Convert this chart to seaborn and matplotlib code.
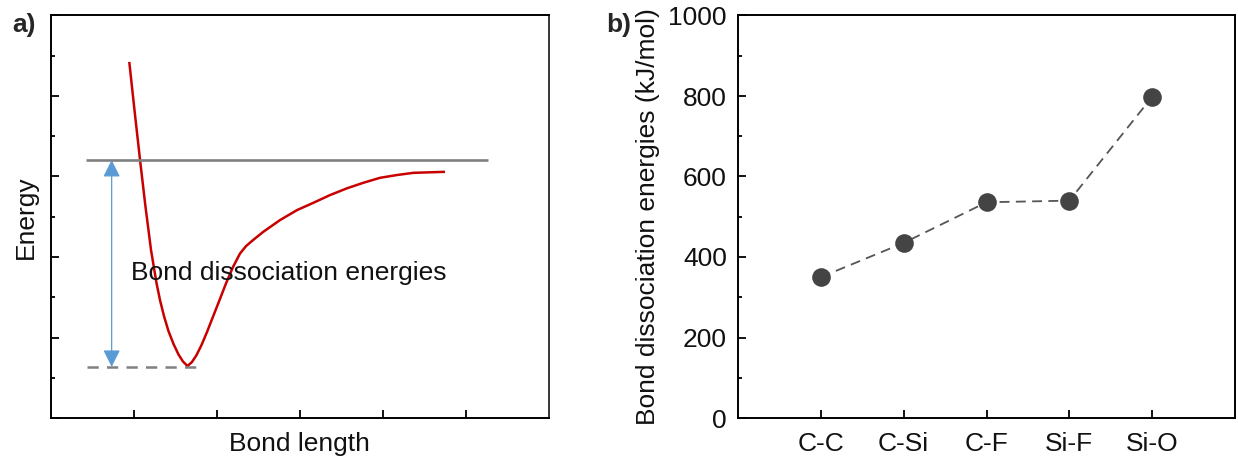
import numpy as np
import pandas as pd
import matplotlib
matplotlib.use("Agg")
import matplotlib.pyplot as plt
import seaborn as sns
from matplotlib.ticker import MultipleLocator

# ---------------- data ----------------
# panel a: potential energy curve (arbitrary units)
bond_length = [0.946, 1.009, 1.075, 1.139, 1.208, 1.274, 1.316, 1.364, 1.418,
               1.479, 1.539, 1.593, 1.647, 1.701, 1.756, 1.816, 1.882, 1.954,
               2.033, 2.111, 2.195, 2.279, 2.352, 2.436, 2.560, 2.761, 2.966,
               3.162, 3.363, 3.564, 3.760, 3.965, 4.170, 4.366, 4.748]
energy = [8.848, 7.648, 6.424, 5.289, 4.172, 3.352, 2.930, 2.533, 2.160,
          1.838, 1.577, 1.403, 1.291, 1.391, 1.564, 1.813, 2.136, 2.516,
          2.930, 3.345, 3.750, 4.085, 4.271, 4.420, 4.626, 4.917, 5.165,
          5.346, 5.538, 5.704, 5.841, 5.967, 6.037, 6.091, 6.116]
dissociation_level = 6.41
dissociation_span = [0.42, 5.27]
well_level = 1.27
well_span = [0.44, 1.785]
arrow_x = 0.734
annot_text = "Bond dissociation energies"

# panel b: bond dissociation energies
bonds = ["C-C", "C-Si", "C-F", "Si-F", "Si-O"]
bde = [350, 435, 536, 540, 798]

# ---------------- style ----------------
sns.set_theme(style="ticks")
plt.rcParams["font.family"] = ["Liberation Sans", "DejaVu Sans"]
plt.rcParams["axes.linewidth"] = 1.4
plt.rcParams["xtick.direction"] = "in"
plt.rcParams["ytick.direction"] = "in"
plt.rcParams["lines.solid_capstyle"] = "butt"

FS = 19
fig = plt.figure(figsize=(12.38, 4.61), dpi=100)
ax1 = fig.add_axes([50.7 / 1238, 1 - 418 / 461, (549 - 50.7) / 1238, (418 - 15.5) / 461])
ax2 = fig.add_axes([738 / 1238, 1 - 418 / 461, (1235 - 738) / 1238, (418 - 15.5) / 461])

# ---------------- panel a ----------------
df_a = pd.DataFrame({"r": bond_length, "E": energy})
sns.lineplot(data=df_a, x="r", y="E", sort=False, color="#C80000", lw=1.8, ax=ax1)
ax1.lines[-1].set_solid_joinstyle("round")
sns.lineplot(x=dissociation_span, y=[dissociation_level] * 2, color="#808080", lw=1.9, ax=ax1)
sns.lineplot(x=well_span, y=[well_level] * 2, color="#808080", lw=1.8, ax=ax1)
ax1.lines[-1].set_dashes((4.5, 3.3))
ax1.annotate("", xy=(arrow_x, dissociation_level), xytext=(arrow_x, well_level),
             arrowprops=dict(arrowstyle="<|-|>", color="#5B9BD5", lw=0.9,
                             mutation_scale=26, shrinkA=0, shrinkB=0))
ax1.text(0.97, 3.6, annot_text, fontsize=FS, va="center", ha="left", color="#111111")
ax1.set_xlim(0, 6)
ax1.set_ylim(0, 10)
ax1.set_xticks([1, 2, 3, 4, 5])
ax1.yaxis.set_major_locator(MultipleLocator(2))
ax1.yaxis.set_minor_locator(MultipleLocator(1))
ax1.tick_params(axis="both", which="both", labelleft=False, labelbottom=False,
                left=True, bottom=True, top=False, right=False, color="black")
ax1.tick_params(axis="x", which="major", length=5.5, width=1.3)
ax1.tick_params(axis="y", which="major", length=5.5, width=1.3)
ax1.tick_params(axis="y", which="minor", length=2.8, width=1.3)
ax1.set_xlabel("Bond length", fontsize=FS, labelpad=10, color="#111111")
ax1.set_ylabel("Energy", fontsize=FS, labelpad=9, color="#111111")
ax1.spines["right"].set_linewidth(1.1)
for s in ax1.spines.values():
    s.set_color("black")

# ---------------- panel b ----------------
pos = np.arange(1, len(bonds) + 1)
df_b = pd.DataFrame({"pos": pos, "bde": bde})
sns.lineplot(data=df_b, x="pos", y="bde", color="#555555", lw=1.3, ax=ax2)
ax2.lines[-1].set_dashes((5.5, 3.5))
sns.scatterplot(data=df_b, x="pos", y="bde", color="#444444", s=180, edgecolor="#444444",
                linewidth=0, ax=ax2, zorder=3)
ax2.set_xlim(0, 6)
ax2.set_ylim(0, 1000)
ax2.set_xticks(pos)
ax2.set_xticklabels(bonds)
ax2.yaxis.set_major_locator(MultipleLocator(200))
ax2.yaxis.set_minor_locator(MultipleLocator(100))
ax2.tick_params(axis="both", which="both", labelsize=FS, left=True, bottom=True,
                top=False, right=False, color="black", labelcolor="#111111")
ax2.tick_params(axis="x", which="major", length=5.5, width=1.3, pad=10)
ax2.tick_params(axis="y", which="major", length=5.8, width=1.3, pad=8)
ax2.tick_params(axis="y", which="minor", length=3, width=1.3)
ax2.set_xlabel("")
ax2.set_ylabel("Bond dissociation energies (kJ/mol)", fontsize=FS, labelpad=6, color="#111111")
for s in ax2.spines.values():
    s.set_color("black")

# panel letters
fig.text(12 / 1238, 1 - 25 / 461, "a)", fontsize=19, fontweight="bold", va="center", ha="left")
fig.text(606 / 1238, 1 - 25 / 461, "b)", fontsize=19, fontweight="bold", va="center", ha="left")

fig.savefig("out.png", dpi=100)
